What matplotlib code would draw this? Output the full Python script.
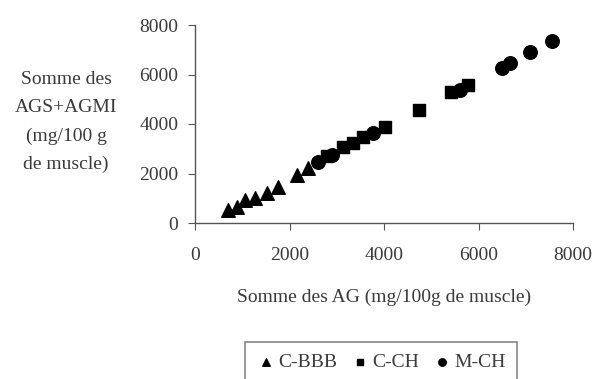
import matplotlib
matplotlib.use("Agg")
import matplotlib.pyplot as plt

# C-BBB (triangles)
cbbb_x = [705, 882, 1058, 1270, 1517, 1763, 2152, 2392]
cbbb_y = [525, 659, 929, 998, 1200, 1467, 1939, 2222]
# C-CH (squares)
cch_x = [2800, 3139, 3351, 3562, 4021, 4749, 5420, 5785]
cch_y = [2700, 3084, 3220, 3487, 3891, 4566, 5280, 5576]
# M-CH (circles)
mch_x = [2610, 2893, 3774, 5608, 6490, 6667, 7090, 7549]
mch_y = [2477, 2747, 3624, 5374, 6250, 6451, 6897, 7366]

xticks = [0, 2000, 4000, 6000, 8000]
yticks = [0, 2000, 4000, 6000, 8000]

plt.rcParams['font.family'] = ['Liberation Serif', 'DejaVu Serif']
txt = '#3a3a3a'
fs = 14

fig = plt.figure(figsize=(5.96, 3.79), dpi=100)
ax = fig.add_axes([195/596, 1-223/379, (573-195)/596, (223-25)/379])

ax.scatter(cbbb_x, cbbb_y, marker='^', s=95, color='black', label='C-BBB', zorder=3)
ax.scatter(cch_x, cch_y, marker='s', s=75, color='black', label='C-CH', zorder=3)
ax.scatter(mch_x, mch_y, marker='o', s=95, color='black', label='M-CH', zorder=3)

ax.set_xlim(0, 8000)
ax.set_ylim(0, 8000)
ax.set_xticks(xticks)
ax.set_yticks(yticks)
ax.set_xticklabels([str(v) for v in xticks])
ax.set_yticklabels([str(v) for v in yticks])
for s in ['top', 'right']:
    ax.spines[s].set_visible(False)
for s in ['left', 'bottom']:
    ax.spines[s].set_color('#555555')
    ax.spines[s].set_linewidth(1.0)
ax.tick_params(direction='out', length=5, color='#555555', labelsize=fs, labelcolor=txt)
ax.tick_params(axis='x', pad=12)
ax.tick_params(axis='y', pad=7)

ax.set_xlabel('Somme des AG (mg/100g de muscle)', fontsize=fs, color=txt, labelpad=18)
fig.text(66/596, 1-122/379, 'Somme des\nAGS+AGMI\n(mg/100 g\nde muscle)', ha='center', va='center',
         fontsize=fs, color=txt, linespacing=1.85)

leg = fig.legend(loc='center', bbox_to_anchor=(381/596, 1-362/379), ncol=3, fontsize=fs,
                 markerscale=0.55, handletextpad=0.1, columnspacing=0.7, handlelength=1.0,
                 frameon=True, fancybox=False, borderpad=0.6)
leg.get_frame().set_edgecolor('#666666')
leg.get_frame().set_linewidth(1.2)
for t in leg.get_texts():
    t.set_color(txt)

fig.savefig('out.png', dpi=100)
